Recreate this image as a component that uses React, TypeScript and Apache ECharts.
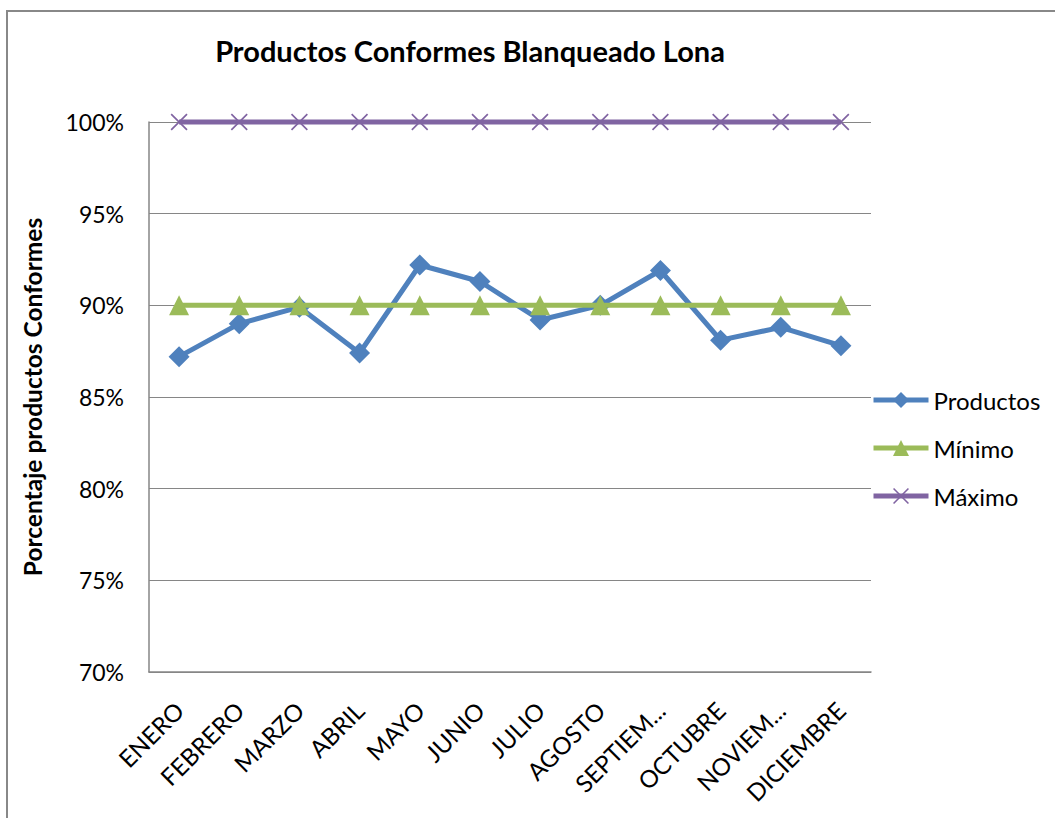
import React, { useEffect, useRef } from "react";
import * as echarts from "echarts";

const categories = ["ENERO", "FEBRERO", "MARZO", "ABRIL", "MAYO", "JUNIO", "JULIO", "AGOSTO", "SEPTIEMBRE", "OCTUBRE", "NOVIEMBRE", "DICIEMBRE"];
const tickLabels = ["ENERO", "FEBRERO", "MARZO", "ABRIL", "MAYO", "JUNIO", "JULIO", "AGOSTO", "SEPTIEM...", "OCTUBRE", "NOVIEM...", "DICIEMBRE"];
const productos = [87.2, 89.0, 89.9, 87.4, 92.2, 91.3, 89.2, 90.0, 91.9, 88.1, 88.8, 87.8];
const minimo = [90, 90, 90, 90, 90, 90, 90, 90, 90, 90, 90, 90];
const maximo = [100, 100, 100, 100, 100, 100, 100, 100, 100, 100, 100, 100];

const FONT = "Lato, 'Noto Sans', sans-serif";
const X_PATH = "path://M0,0.7 L0.7,0 L10,9.3 L9.3,10 Z M9.3,0 L10,0.7 L0.7,10 L0,9.3 Z";

export default function App() {
  const ref = useRef<HTMLDivElement>(null);
  useEffect(() => {
    if (!ref.current) return;
    const chart = echarts.init(ref.current, undefined, { renderer: "svg" });
    chart.setOption({
      animation: false,
      backgroundColor: "#ffffff",
      textStyle: { fontFamily: FONT },
      graphic: [
        {
          type: "rect",
          shape: { x: 7, y: 11, width: 1200, height: 1000 },
          style: { fill: "none", stroke: "#888888", lineWidth: 2 },
          silent: true,
        },
      ],
      title: {
        text: "Productos Conformes Blanqueado Lona",
        left: 465,
        textAlign: "center",
        top: 31,
        textStyle: { fontFamily: FONT, fontSize: 29, fontWeight: "bold", color: "#000" },
      },
      legend: {
        orient: "vertical",
        left: 871,
        top: 386,
        padding: 0,
        itemWidth: 55,
        itemHeight: 20,
        itemGap: 20,
        lineStyle: { width: 5 },
        textStyle: { fontFamily: FONT, fontSize: 24, color: "#000", lineHeight: 28 },
        data: ["Productos", "Mínimo", "Máximo"],
      },
      grid: { left: 149, right: 184, top: 122, bottom: 146, containLabel: false },
      xAxis: {
        type: "category",
        data: categories,
        boundaryGap: true,
        axisLine: { lineStyle: { color: "#868686", width: 1.5 } },
        axisTick: { show: false },
        axisLabel: {
          rotate: 45,
          interval: 0,
          fontFamily: FONT,
          fontSize: 24,
          color: "#000",
          margin: 34,
          formatter: (_v: string, i: number) => tickLabels[i],
        },
        splitLine: { show: false },
      },
      yAxis: {
        type: "value",
        min: 70,
        max: 100,
        interval: 5,
        name: "Porcentaje productos Conformes",
        nameLocation: "middle",
        nameRotate: 90,
        nameGap: 104,
        nameTextStyle: { fontFamily: FONT, fontSize: 24.5, fontWeight: "bold", color: "#000" },
        axisLine: { show: true, lineStyle: { color: "#868686", width: 1.5 } },
        axisTick: { show: false },
        axisLabel: {
          fontFamily: FONT,
          fontSize: 23,
          color: "#000",
          margin: 25,
          formatter: (v: number) => v + "%",
        },
        splitLine: { lineStyle: { color: "#868686", width: 1.2 } },
      },
      series: [
        {
          name: "Productos",
          type: "line",
          data: productos,
          symbol: "diamond",
          symbolSize: 21,
          clip: false,
          lineStyle: { color: "#4F81BD", width: 5 },
          itemStyle: { color: "#4F81BD" },
          z: 3,
        },
        {
          name: "Mínimo",
          type: "line",
          data: minimo,
          symbol: "triangle",
          symbolSize: 20,
          clip: false,
          lineStyle: { color: "#9BBB59", width: 5 },
          itemStyle: { color: "#9BBB59" },
          z: 4,
        },
        {
          name: "Máximo",
          type: "line",
          data: maximo,
          symbol: X_PATH,
          symbolSize: 17,
          clip: false,
          lineStyle: { color: "#8064A2", width: 5 },
          itemStyle: { color: "#8064A2" },
          z: 5,
        },
      ],
    });
    return () => chart.dispose();
  }, []);
  return (
    <div
      ref={ref}
      style={{ position: "fixed", left: 0, top: 0, width: 1055, height: 818 }}
    />
  );
}
